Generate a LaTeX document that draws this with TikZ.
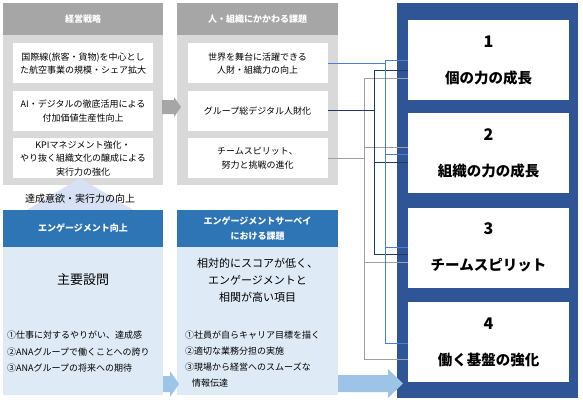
\documentclass[tikz,border=0pt]{standalone}
\usepackage{fontspec}
\setmainfont{Noto Sans CJK JP}
\usetikzlibrary{arrows}
\usetikzlibrary{positioning}

\definecolor{headgray}{HTML}{A6A6A6}
\definecolor{panelgray}{HTML}{D9D9D9}
\definecolor{headblue}{HTML}{2E75B6}
\definecolor{bodyblue}{HTML}{DEEBF7}
\definecolor{darkblue}{HTML}{2F5597}
\definecolor{arrowblue}{HTML}{9DC3E6}
\definecolor{triblue}{HTML}{D6E2F3}
\definecolor{linelb}{HTML}{4A7DD6}
\definecolor{linenavy}{HTML}{203864}
\definecolor{linegray}{HTML}{A0A0A0}

\begin{document}
\begin{tikzpicture}[x=1pt, y=-1pt, >=latex', node distance=7pt]
		\tikzstyle{panel}=[rectangle, inner sep=0pt, anchor=north west]
		\tikzstyle{head}=[rectangle, minimum width=160pt, minimum height=32pt, inner sep=0pt, text=white, align=center, font=\fontsize{9}{15}\selectfont\bfseries]
		\tikzstyle{item}=[rectangle, fill=white, minimum width=140pt, minimum height=40pt, inner sep=0pt, align=center, font=\fontsize{9}{13.5}\selectfont]
		\tikzstyle{goal}=[rectangle, fill=white, minimum width=161pt, minimum height=80pt, inner sep=0pt, align=center, font=\fontsize{14.5}{36}\selectfont\bfseries]
		\tikzstyle{lbline}=[line width=0.7pt, draw=linelb]
		\tikzstyle{navyline}=[line width=0.7pt, draw=linenavy]
		\tikzstyle{grayline}=[line width=0.7pt, draw=linegray]
		\fill[white] (0,0) rectangle (583,402);
		\useasboundingbox (0,0) rectangle (583,402);
		% upper panels
		\node[panel, fill=panelgray, minimum width=160pt, minimum height=182pt] (strat) at (3,3) {};
		\node[head, fill=headgray] (h1) at (83,19) {経営戦略};
		\node[item] (s1) [below=8pt of h1] {国際線(旅客・貨物)を中心とし\\た航空事業の規模・シェア拡大};
		\node[item] (s2) [below=of s1] {AI・デジタルの徹底活用による\\付加価値生産性向上};
		\node[item] (s3) [below=of s2] {KPIマネジメント強化・\\やり抜く組織文化の醸成による\\実行力の強化};
		\node[panel, fill=panelgray, minimum width=161pt, minimum height=182pt] (issue) at (177,3) {};
		\node[head, fill=headgray, minimum width=161pt] (h2) at (257.5,19) {人・組織にかかわる課題};
		\node[item] (m1) [below=8pt of h2] {世界を舞台に活躍できる\\人財・組織力の向上};
		\node[item] (m2) [below=of m1] {グループ総デジタル人財化};
		\node[item] (m3) [below=of m2] {チームスピリット、\\努力と挑戦の進化};
		\fill[headgray] (162,100) -- (174,100) -- (174,97) -- (181,107) -- (174,117) -- (174,114) -- (162,114) -- cycle;
		% lower panels
		\fill[triblue] (80,178) -- (135,211) -- (25,211) -- cycle;
		\node[font=\fontsize{10}{12}\selectfont] (lift) at (80,199) {達成意欲・実行力の向上};
		\node[panel, fill=bodyblue, minimum width=160pt, minimum height=185pt] (eng) at (3,210) {};
		\node[head, fill=headblue, minimum height=37pt] (b1) at (83,228.5) {エンゲージメント向上};
		\node[font=\fontsize{13}{16}\selectfont] (q) at (83,280) {主要設問};
		\node[anchor=west, align=left, inner sep=0pt, font=\fontsize{9}{16.5}\selectfont] (qlist) at (7,352) {①仕事に対するやりがい、達成感\\②ANAグループで働くことへの誇り\\③ANAグループの将来への期待};
		\node[panel, fill=bodyblue, minimum width=161pt, minimum height=185pt] (survey) at (177,210) {};
		\node[head, fill=headblue, minimum width=161pt, minimum height=37pt] (b2) at (257.5,228.5) {エンゲージメントサーベイ\\における課題};
		\node[align=center, font=\fontsize{11}{17}\selectfont] (low) at (257.5,280) {相対的にスコアが低く、\\エンゲージメントと\\相関が高い項目};
		\node[anchor=west, align=left, inner sep=0pt, font=\fontsize{9}{16}\selectfont] (ilist) at (185,359) {①社員が自らキャリア目標を描く\\②適切な業務分担の実施\\③現場から経営へのスムーズな\\\hspace*{7pt}情報伝達};
		\fill[arrowblue] (163,376) -- (170,376) -- (170,371) -- (179,384) -- (170,397) -- (170,392) -- (163,392) -- cycle;
		% goals
		\node[panel, fill=darkblue, minimum width=181pt, minimum height=395pt] (goals) at (397,3) {};
		\node[goal] (r1) at (488.5,60) {{\fontsize{16}{36}\selectfont 1}\\個の力の成長};
		\node[goal] (r2) [below=13pt of r1] {{\fontsize{16}{36}\selectfont 2}\\組織の力の成長};
		\node[goal] (r3) [below=14pt of r2] {{\fontsize{16}{36}\selectfont 3}\\チームスピリット};
		\node[goal] (r4) [below=14pt of r3] {{\fontsize{16}{36}\selectfont 4}\\働く基盤の強化};
		\fill[arrowblue] (338,375) -- (388,375) -- (388,369) -- (403,383.5) -- (388,398) -- (388,392) -- (338,392) -- cycle;
		% connectors
		\coordinate (lbbus) at (385,0);
		\coordinate (navybus) at (374,0);
		\coordinate (graybus) at (364,0);
		\draw[grayline] (m3.east) -- (m3.east -| graybus) |- ([yshift=-18pt]r1.west);
		\draw[grayline] (m3.east -| graybus) |- ([yshift=6pt]r2.west);
		\draw[grayline] (m3.east -| graybus) |- ([yshift=-15pt]r3.west);
		\draw[grayline] (m3.east -| graybus) |- ([yshift=-17pt]r4.west);
		\draw[navyline] (m2.east) -- (m2.east -| navybus) |- ([yshift=-10pt]r1.west);
		\draw[navyline] (m2.east -| navybus) |- ([yshift=-9pt]r2.west);
		\draw[navyline] (m2.east -| navybus) |- ([yshift=-7pt]r3.west);
		\draw[lbline] (m1.east) -- (m1.east -| lbbus) |- (r1.west);
		\draw[lbline] (m1.east -| lbbus) |- ([yshift=-1pt]r2.west);
		\draw[lbline] (m1.east -| lbbus) |- (r3.west);
		\draw[lbline] (m1.east -| lbbus) |- ([yshift=-1pt]r4.west);
	\end{tikzpicture}
\end{document}
